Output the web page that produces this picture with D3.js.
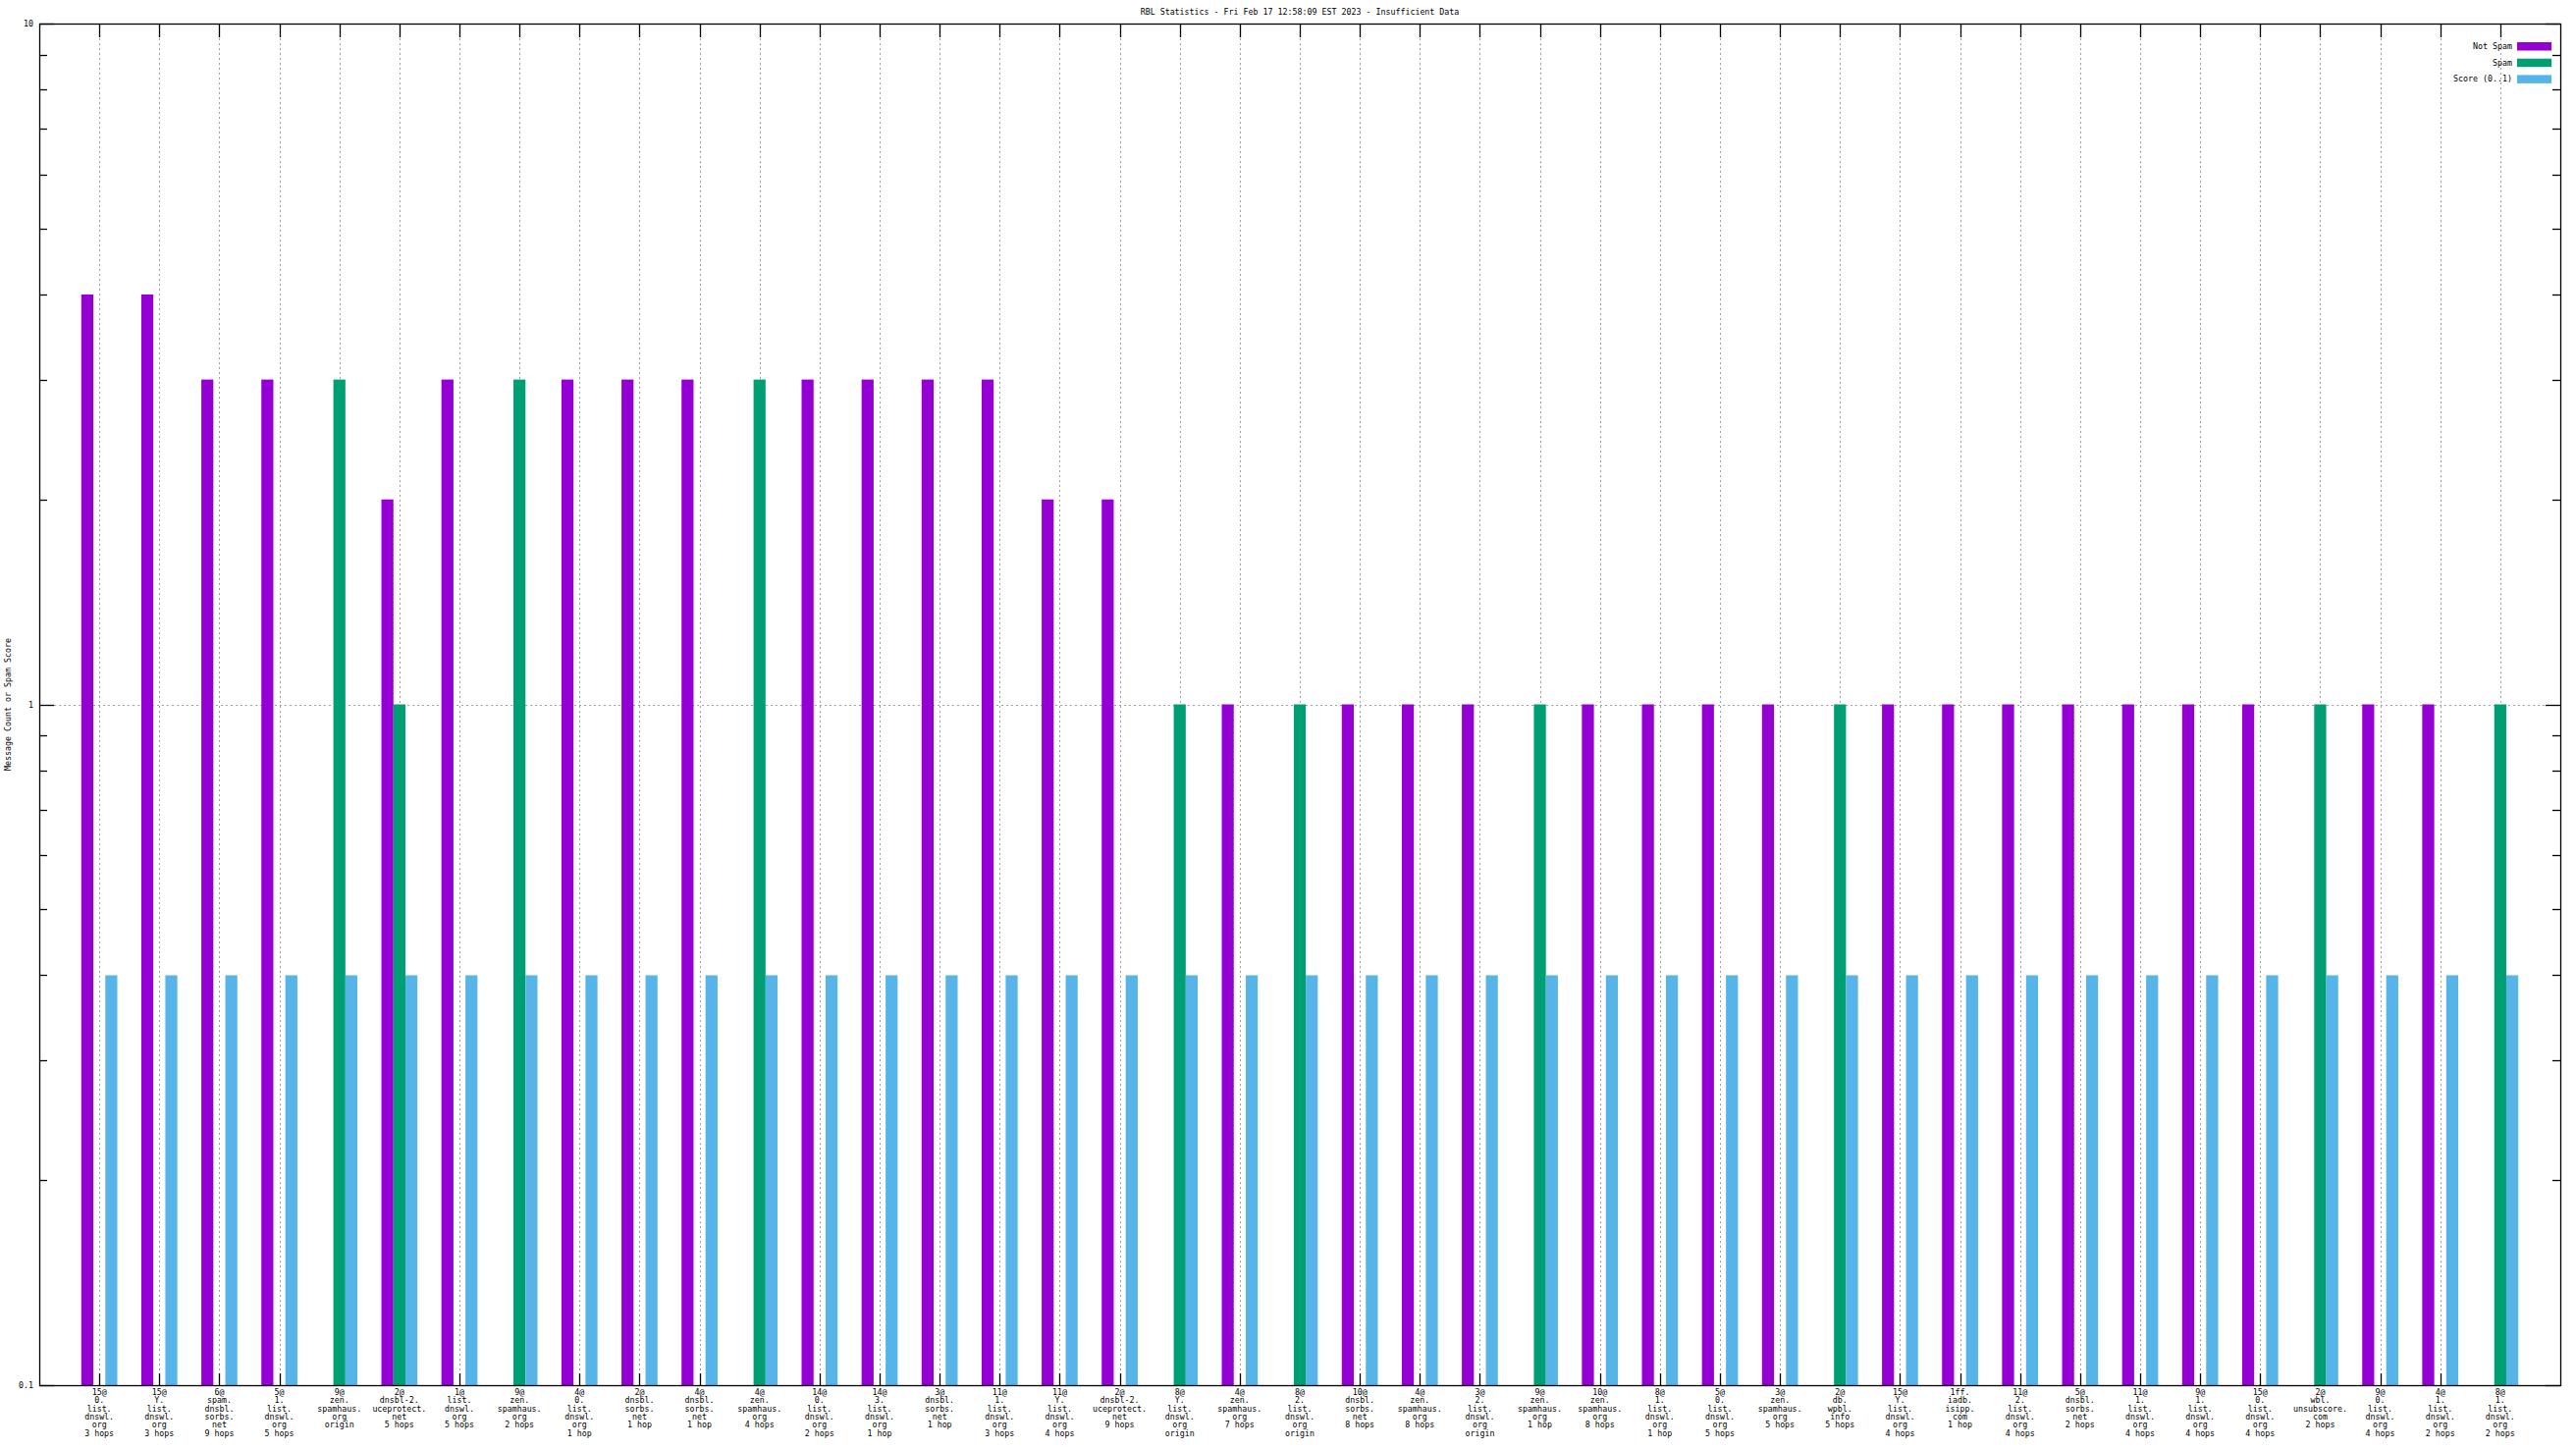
<!DOCTYPE html>
<html><head><meta charset="utf-8">
<script src="https://cdn.jsdelivr.net/npm/d3@7/dist/d3.min.js"></script>
<style>
body{margin:0;background:#fff}
svg text{font-family:"DejaVu Sans Mono",monospace;font-size:8.3px;fill:#000}
</style></head><body>
<svg id="c" width="2624" height="1476"></svg>
<script>
const title = "RBL Statistics - Fri Feb 17 12:58:09 EST 2023 - Insufficient Data";
const yLabel = "Message Count or Spam Score";
const seriesNames = ["Not Spam", "Spam", "Score (0..1)"];
const seriesColors = ["#9400d3", "#009e73", "#56b4e9"];
const categories = [
  "15@\n0.\nlist.\ndnswl.\norg\n3 hops",
  "15@\nY.\nlist.\ndnswl.\norg\n3 hops",
  "6@\nspam.\ndnsbl.\nsorbs.\nnet\n9 hops",
  "5@\n1.\nlist.\ndnswl.\norg\n5 hops",
  "9@\nzen.\nspamhaus.\norg\norigin",
  "2@\ndnsbl-2.\nuceprotect.\nnet\n5 hops",
  "1@\nlist.\ndnswl.\norg\n5 hops",
  "9@\nzen.\nspamhaus.\norg\n2 hops",
  "4@\n0.\nlist.\ndnswl.\norg\n1 hop",
  "2@\ndnsbl.\nsorbs.\nnet\n1 hop",
  "4@\ndnsbl.\nsorbs.\nnet\n1 hop",
  "4@\nzen.\nspamhaus.\norg\n4 hops",
  "14@\n0.\nlist.\ndnswl.\norg\n2 hops",
  "14@\n3.\nlist.\ndnswl.\norg\n1 hop",
  "3@\ndnsbl.\nsorbs.\nnet\n1 hop",
  "11@\n1.\nlist.\ndnswl.\norg\n3 hops",
  "11@\nY.\nlist.\ndnswl.\norg\n4 hops",
  "2@\ndnsbl-2.\nuceprotect.\nnet\n9 hops",
  "8@\nY.\nlist.\ndnswl.\norg\norigin",
  "4@\nzen.\nspamhaus.\norg\n7 hops",
  "8@\n2.\nlist.\ndnswl.\norg\norigin",
  "10@\ndnsbl.\nsorbs.\nnet\n8 hops",
  "4@\nzen.\nspamhaus.\norg\n8 hops",
  "3@\n2.\nlist.\ndnswl.\norg\norigin",
  "9@\nzen.\nspamhaus.\norg\n1 hop",
  "10@\nzen.\nspamhaus.\norg\n8 hops",
  "8@\n1.\nlist.\ndnswl.\norg\n1 hop",
  "5@\n0.\nlist.\ndnswl.\norg\n5 hops",
  "3@\nzen.\nspamhaus.\norg\n5 hops",
  "2@\ndb.\nwpbl.\ninfo\n5 hops",
  "15@\nY.\nlist.\ndnswl.\norg\n4 hops",
  "1ff.\niadb.\nisipp.\ncom\n1 hop",
  "11@\n2.\nlist.\ndnswl.\norg\n4 hops",
  "5@\ndnsbl.\nsorbs.\nnet\n2 hops",
  "11@\n1.\nlist.\ndnswl.\norg\n4 hops",
  "9@\n1.\nlist.\ndnswl.\norg\n4 hops",
  "15@\n0.\nlist.\ndnswl.\norg\n4 hops",
  "2@\nwbl.\nunsubscore.\ncom\n2 hops",
  "9@\n0.\nlist.\ndnswl.\norg\n4 hops",
  "4@\n1.\nlist.\ndnswl.\norg\n2 hops",
  "8@\n1.\nlist.\ndnswl.\norg\n2 hops"
];
const notSpam = [4,4,3,3,null,2,3,null,3,3,3,null,3,3,3,3,2,2,null,1,null,1,1,1,null,1,1,1,1,null,1,1,1,1,1,1,1,null,1,1,null];
const spam    = [null,null,null,null,3,1,null,3,null,null,null,3,null,null,null,null,null,null,1,null,1,null,null,null,1,null,null,null,null,1,null,null,null,null,null,null,null,1,null,null,1];
const score   = [0.4,0.4,0.4,0.4,0.4,0.4,0.4,0.4,0.4,0.4,0.4,0.4,0.4,0.4,0.4,0.4,0.4,0.4,0.4,0.4,0.4,0.4,0.4,0.4,0.4,0.4,0.4,0.4,0.4,0.4,0.4,0.4,0.4,0.4,0.4,0.4,0.4,0.4,0.4,0.4,0.4];
const yMajorTicks = [0.1, 1, 10];
const yTickLabels = ["0.1", "1", "10"];
const yMinorTicks = [0.2,0.3,0.4,0.5,0.6,0.7,0.8,0.9,2,3,4,5,6,7,8,9];

const L = 40, R = 2608, T = 24, B = 1411;
const svg = d3.select("#c");
const x = d3.scaleLinear().domain([-1, categories.length]).range([L, R]);
const y = d3.scaleLog().domain([0.1, 10]).range([B, T]);
const unit = x(1) - x(0);
const bw = unit / 5;
const series = [notSpam, spam, score];

// grid
const grid = svg.append("g").attr("stroke", "#a0a0a0").attr("stroke-width", 1).attr("stroke-dasharray", "2,3");
categories.forEach((c, i) => {
  grid.append("line").attr("x1", Math.round(x(i)) + 0.5).attr("x2", Math.round(x(i)) + 0.5).attr("y1", T).attr("y2", B);
});
grid.append("line").attr("x1", L).attr("x2", R).attr("y1", Math.round(y(1)) + 0.5).attr("y2", Math.round(y(1)) + 0.5);

// ticks
const tk = svg.append("g").attr("stroke", "#000").attr("stroke-width", 1.3);
categories.forEach((c, i) => {
  const xx = Math.round(x(i)) + 0.5;
  tk.append("line").attr("x1", xx).attr("x2", xx).attr("y1", B).attr("y2", B - 12);
  tk.append("line").attr("x1", xx).attr("x2", xx).attr("y1", T).attr("y2", T + 14);
});
yMajorTicks.forEach(v => {
  const yy = Math.round(y(v)) + 0.5;
  tk.append("line").attr("x1", L).attr("x2", L + 15).attr("y1", yy).attr("y2", yy);
  tk.append("line").attr("x1", R).attr("x2", R - 15).attr("y1", yy).attr("y2", yy);
});
yMinorTicks.forEach(v => {
  const yy = Math.round(y(v)) + 0.5;
  tk.append("line").attr("x1", L).attr("x2", L + 8).attr("y1", yy).attr("y2", yy);
  tk.append("line").attr("x1", R).attr("x2", R - 8).attr("y1", yy).attr("y2", yy);
});

// bars
series.forEach((vals, s) => {
  svg.append("g").attr("fill", seriesColors[s]).selectAll("rect")
    .data(vals.map((v, i) => ({v, i})).filter(d => d.v != null))
    .join("rect")
    .attr("x", d => x(d.i) + (s - 1.5) * bw)
    .attr("width", bw)
    .attr("y", d => y(d.v))
    .attr("height", d => y(0.1) - y(d.v));
});

// border
svg.append("rect").attr("x", L + 0.5).attr("y", T + 0.5).attr("width", R - L).attr("height", B - T)
  .attr("fill", "none").attr("stroke", "#000").attr("stroke-width", 1.3);

// y tick labels
yMajorTicks.forEach((v, k) => {
  svg.append("text").attr("x", 34).attr("y", y(v)).attr("text-anchor", "end")
    .attr("dominant-baseline", "central").text(yTickLabels[k]);
});

// x tick labels
categories.forEach((c, i) => {
  const t = svg.append("text").attr("text-anchor", "middle");
  c.split("\n").forEach((line, j) => {
    t.append("tspan").attr("x", x(i)).attr("y", 1418 + j * 8.3 + 3).text(line);
  });
});

// title
svg.append("text").attr("x", (L + R) / 2).attr("y", 12).attr("text-anchor", "middle")
  .attr("dominant-baseline", "central").text(title);

// y label
svg.append("text").attr("transform", `translate(8,${(T + B) / 2}) rotate(-90)`)
  .attr("text-anchor", "middle").attr("dominant-baseline", "central").text(yLabel);

// legend
seriesNames.forEach((n, k) => {
  const yy = 47 + k * 16.7;
  svg.append("text").attr("x", 2559).attr("y", yy).attr("text-anchor", "end")
    .attr("dominant-baseline", "central").text(n);
  svg.append("rect").attr("x", 2564).attr("y", yy - 4).attr("width", 35).attr("height", 8.5)
    .attr("fill", seriesColors[k]);
});
</script></body></html>
